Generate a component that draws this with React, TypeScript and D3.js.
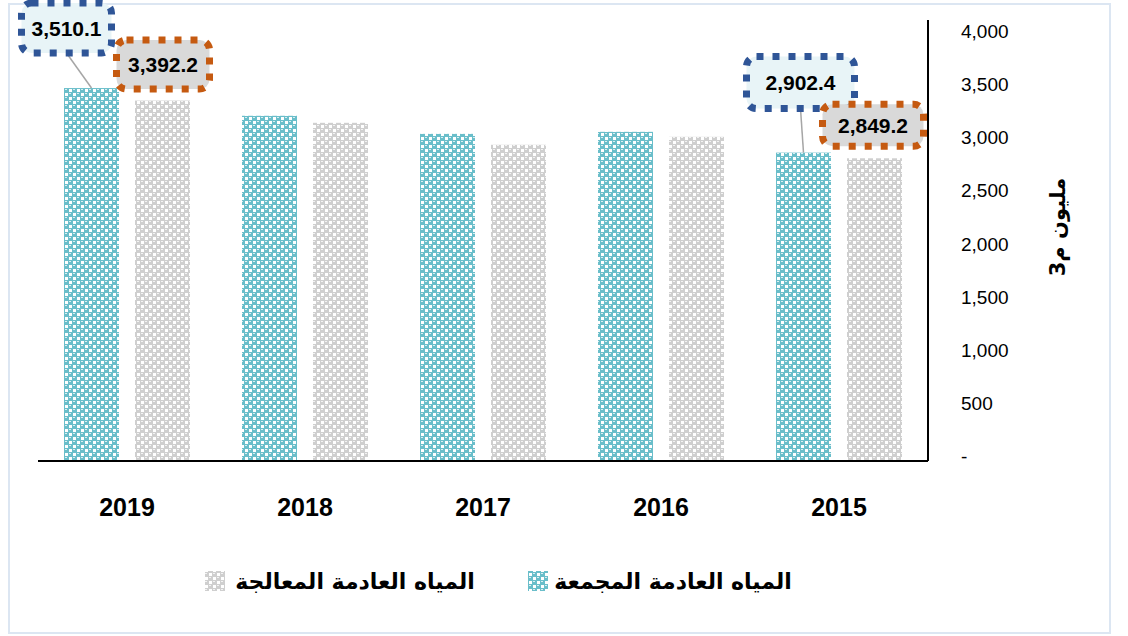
import React from "react";
import * as d3 from "d3";

const years = ["2019", "2018", "2017", "2016", "2015"];
const collected = [3510.1, 3249, 3079, 3098, 2902.4];
const treated = [3392.2, 3183, 2976, 3051, 2849.2];
const yTicks = [0, 500, 1000, 1500, 2000, 2500, 3000, 3500, 4000];
const seriesNames = ["المياه العادمة المجمعة", "المياه العادمة المعالجة"];
const yTitle = "مليون م3";

// annotation callouts: which bar, box size and offset from bar top
const callouts = [
  { series: 0, year: "2019", w: 90, h: 50, dx: -25, dy: -60, leader: true },
  { series: 1, year: "2019", w: 93, h: 49, dx: 0.5, dy: -36, leader: false },
  { series: 0, year: "2015", w: 108, h: 52, dx: -3, dy: -70, leader: true },
  { series: 1, year: "2015", w: 101, h: 42, dx: -1.5, dy: -33, leader: false },
];

const W = 1128;
const H = 636;
const colors = ["#6ABECA", "#CFCFCF"];
const boxStroke = ["#2F5597", "#C55A11"];
const boxFill = ["#E8F4F7", "#D9D9D9"];

export default function App() {
  const x = d3.scaleBand<string>().domain(years).range([38, 928]).paddingInner(0).paddingOuter(0);
  const x1 = d3.scaleBand<string>().domain(["0", "1"]).range([26, 152]).paddingInner(0.2254).paddingOuter(0);
  const y = d3.scaleLinear().domain([0, 4000]).range([461, 36]);
  const series = [collected, treated];
  const fmt = d3.format(",.1f");
  const tfmt = d3.format(",");

  const barX = (s: number, yr: string) => (x(yr) as number) + (x1(String(s)) as number);
  const bw = x1.bandwidth();

  return (
    <div style={{ position: "absolute", left: 0, top: 0 }}>
      <svg width={W} height={H} style={{ display: "block" }}>
        <defs>
          {colors.map((c, i) => (
            <pattern key={i} id={`pat${i}`} width={8} height={8} patternUnits="userSpaceOnUse">
              <rect x={0} y={0} width={8} height={8} fill={c} />
              <rect x={5} y={1} width={3} height={3} fill="#fff" />
              <rect x={1} y={5} width={3} height={3} fill="#fff" />
              <rect x={1} y={1} width={2} height={1} fill="#fff" opacity={0.75} />
              <rect x={5} y={5} width={2} height={1} fill="#fff" opacity={0.75} />
            </pattern>
          ))}
        </defs>
        <rect x={0} y={0} width={W} height={H} fill="#fff" />
        <rect x={9} y={4} width={1101} height={629} fill="#fff" stroke="#DCE6F2" strokeWidth={2} />

        {/* bars */}
        {series.map((vals, s) =>
          vals.map((v, i) => (
            <rect
              key={`${s}-${i}`}
              x={barX(s, years[i])}
              y={y(v)}
              width={bw}
              height={y(0) - y(v)}
              fill={`url(#pat${s})`}
            />
          ))
        )}

        {/* axes */}
        <line x1={38} x2={928} y1={y(0)} y2={y(0)} stroke="#000" strokeWidth={2} />
        <line x1={928} x2={928} y1={20} y2={y(0)} stroke="#000" strokeWidth={2} />

        {yTicks.map((t) => (
          <text
            key={t}
            x={961}
            y={y(t) - 4.5}
            dominantBaseline="central"
            fontFamily="Liberation Sans, Arial, sans-serif"
            fontSize={19}
            fill="#000"
          >
            {t === 0 ? "-" : tfmt(t)}
          </text>
        ))}

        {years.map((yr) => (
          <text
            key={yr}
            x={(x(yr) as number) + x.bandwidth() / 2}
            y={516}
            textAnchor="middle"
            fontFamily="Liberation Sans, Arial, sans-serif"
            fontWeight="bold"
            fontSize={25}
            fill="#000"
          >
            {yr}
          </text>
        ))}

        <text
          transform="translate(1058,227) rotate(-90)"
          textAnchor="middle"
          dominantBaseline="central"
          fontFamily="DejaVu Sans, sans-serif"
          fontWeight="bold"
          fontSize={21}
          fill="#000"
        >
          {yTitle}
        </text>

        {/* callouts */}
        {callouts.map((c, k) => {
          const i = years.indexOf(c.year);
          const v = series[c.series][i];
          const bx = barX(c.series, c.year) + bw / 2;
          const by = y(v);
          const cx = bx + c.dx;
          const cy = by + c.dy;
          return (
            <g key={k}>
              {c.leader && (
                <line x1={cx} y1={cy + c.h / 2} x2={bx} y2={by} stroke="#A6A6A6" strokeWidth={1.5} />
              )}
              <rect
                x={cx - c.w / 2}
                y={cy - c.h / 2}
                width={c.w}
                height={c.h}
                rx={10}
                fill={boxFill[c.series]}
                stroke={boxStroke[c.series]}
                strokeWidth={7}
                strokeDasharray="7 9"
              />
              <text
                x={cx}
                y={cy}
                textAnchor="middle"
                dominantBaseline="central"
                fontFamily="Liberation Sans, Arial, sans-serif"
                fontWeight="bold"
                fontSize={21}
                fill="#000"
              >
                {fmt(v)}
              </text>
            </g>
          );
        })}

        {/* legend */}
        {[
          { s: 0, sw: 528, tx: 673 },
          { s: 1, sw: 205, tx: 355 },
        ].map((l) => (
          <g key={l.s}>
            <rect x={l.sw} y={571} width={20} height={20} fill={`url(#pat${l.s})`} />
            <text
              x={l.tx}
              y={589}
              textAnchor="middle"
              fontFamily="DejaVu Sans, sans-serif"
              fontWeight="bold"
              fontSize={22}
              fill="#000"
            >
              {seriesNames[l.s]}
            </text>
          </g>
        ))}
      </svg>
    </div>
  );
}
